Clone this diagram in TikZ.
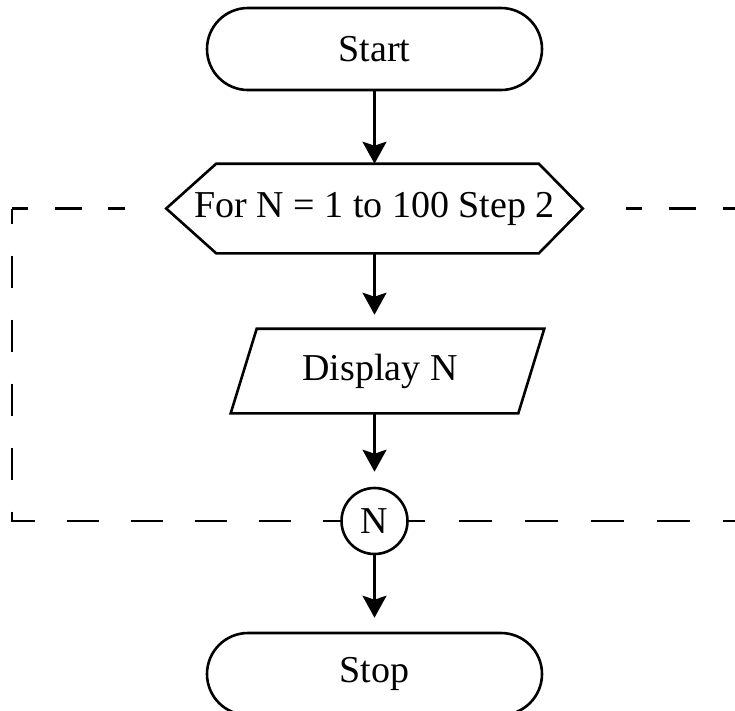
\documentclass[tikz,border=0pt]{standalone}
\usepackage{fontspec}
\setmainfont{Liberation Serif}
\usetikzlibrary{shapes.misc,arrows.meta}
\begin{document}
\begin{tikzpicture}[x=1pt,y=-1pt,
  line width=2.6pt,
  every node/.style={font=\fontsize{38}{44}\selectfont, inner sep=0pt},
  term/.style={draw, rounded rectangle, minimum width=335pt, minimum height=82pt},
  flow/.style={-{Stealth[length=22pt,width=24pt,inset=4pt]}},
  loopline/.style={line width=2.6pt}]
\useasboundingbox (0,0) rectangle (735,710);
% nodes
\node[term] (start) at (374.5,49) {Start};
\node[minimum width=414pt, minimum height=87pt] (for) at (374.5,208.5) {For N = 1 to 100 Step 2};
\draw ([xshift=50pt]for.north west) -- ([xshift=-44pt]for.north east) -- (for.east)
      -- ([xshift=-44pt]for.south east) -- ([xshift=50pt]for.south west) -- (for.west) -- cycle;
\node[minimum width=311pt, minimum height=82pt] (disp) at (387.5,371) {};
\node at (380,371) {Display N};
\draw ([xshift=26pt]disp.north west) -- (disp.north east) -- ([xshift=-26pt]disp.south east)
      -- (disp.south west) -- cycle;
\node[draw, circle, minimum size=66pt] (conn) at (374.5,521) {N};
\node[term] (stop) at (374.5,674) {Stop};
% flow arrows
\draw[flow] (start.south) -- (start.south |- for.north);
\draw[flow, shorten >=14pt] (for.south) -- (for.south |- disp.north);
\draw[flow, shorten >=15pt] (for.south |- disp.south) -- (conn.north);
\draw[flow, shorten >=14pt] (conn.south) -- (stop.north);
% dashed loop
\coordinate (tl) at (12,208.5);
\coordinate (bl) at (12,521);
\coordinate (tr) at (735,208.5);
\coordinate (br) at (735,521);
\draw[loopline, dash pattern=on 16pt off 27pt on 27pt off 26pt on 17pt off 60pt] (tl) -- (for.west);
\draw[loopline, dash pattern=on 32pt off 32pt, dash phase=17pt] (tl) -- (bl) -- (conn.west);
\draw[loopline, dash pattern=on 16pt off 34pt on 33pt off 33pt on 33pt off 33pt on 33pt off 33pt on 33pt off 33pt on 33pt] (conn.east) -- (br);
\draw[loopline, dash pattern=on 0pt off 43pt on 16pt off 27pt on 27pt off 27pt on 27pt] (for.east) -- (tr);
\end{tikzpicture}
\end{document}
